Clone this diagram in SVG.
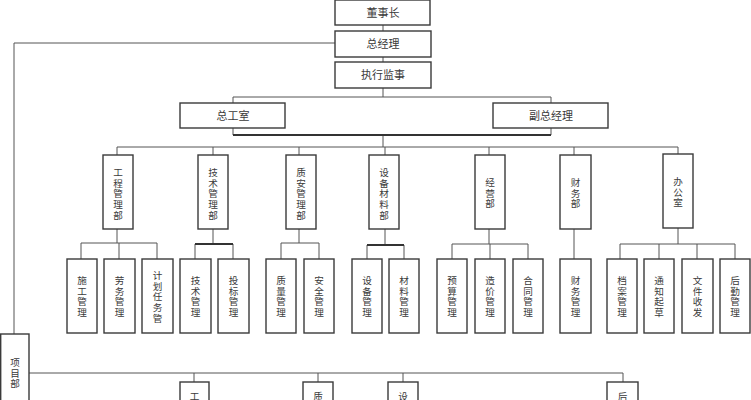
<svg xmlns="http://www.w3.org/2000/svg" width="751" height="400" viewBox="0 0 751 400">
<style>
.b{fill:#fff;stroke:#3a3a3a;stroke-width:1.4}
.c{fill:none;stroke:#555;stroke-width:1}
.k{fill:none;stroke:#333;stroke-width:2.2}
.t{font-family:"Liberation Serif","Noto Sans CJK SC",serif;font-size:11px;fill:#3a3a3a;text-anchor:middle}
.v{font-size:9.6px}
</style>
<rect width="751" height="400" fill="#fff"/>
<g id="connectors">
<path class="c" d="M383 25V31M383 57V62M383 88V97M233 97H551M233 97V103M551 97V103M233 128V135M551 128V135M383 135V147"/>
<path class="k" d="M233 135H551"/>
<path class="c" d="M335 43H14V334"/>
<path class="c" d="M117 147H678M117 147V155M213 147V155M299 147V155M385 147V155M489 147V155M574 147V155M678 147V154"/>
<path class="c" d="M117 229V243M81 243H157M81 243V259M119 243V259M157 243V259"/>
<path class="c" d="M213 229V244M195 244V259M233 244V259"/><path class="k" d="M195 244H233"/>
<path class="c" d="M299 229V243M281 243H319M281 243V259M319 243V259"/>
<path class="c" d="M385 229V245M367 245V259M404 245V259"/><path class="k" d="M367 245H404"/>
<path class="c" d="M489 229V244M452 244H528M452 244V259M490 244V259M528 244V259"/>
<path class="c" d="M574 229V259"/>
<path class="c" d="M678 228V244M620 244H735M620 244V259M659 244V259M697 244V259M735 244V259"/>
<path class="c" d="M29 373H623M194 373V382M318 373V382M403 373V382M623 373V382"/>
</g>
<g id="dongshizhang"><rect class="b" x="335" y="0" width="95" height="25"/><text class="t" x="383" y="16.5">董事长</text></g>
<g id="zongjingli"><rect class="b" x="335" y="31" width="96" height="26"/><text class="t" x="383" y="48">总经理</text></g>
<g id="zhixingjianshi"><rect class="b" x="335" y="62" width="96" height="26"/><text class="t" x="383" y="79">执行监事</text></g>
<g id="zonggongshi"><rect class="b" x="180" y="103" width="105" height="25"/><text class="t" x="233" y="120">总工室</text></g>
<g id="fuzongjingli"><rect class="b" x="493" y="103" width="115" height="25"/><text class="t" x="551" y="120">副总经理</text></g>
<g id="gongcheng"><rect class="b" x="103" y="155" width="30" height="74"/><text class="t v" x="118" y="176">工<tspan x="118" dy="10.7">程</tspan><tspan x="118" dy="10.7">管</tspan><tspan x="118" dy="10.7">理</tspan><tspan x="118" dy="10.7">部</tspan></text></g>
<g id="jishu"><rect class="b" x="198" y="155" width="30" height="74"/><text class="t v" x="213" y="176">技<tspan x="213" dy="10.7">术</tspan><tspan x="213" dy="10.7">管</tspan><tspan x="213" dy="10.7">理</tspan><tspan x="213" dy="10.7">部</tspan></text></g>
<g id="zhian"><rect class="b" x="286" y="155" width="30" height="74"/><text class="t v" x="301" y="176">质<tspan x="301" dy="10.7">安</tspan><tspan x="301" dy="10.7">管</tspan><tspan x="301" dy="10.7">理</tspan><tspan x="301" dy="10.7">部</tspan></text></g>
<g id="shebeicailiao"><rect class="b" x="369" y="155" width="30" height="74"/><text class="t v" x="384" y="176">设<tspan x="384" dy="10.7">备</tspan><tspan x="384" dy="10.7">材</tspan><tspan x="384" dy="10.7">料</tspan><tspan x="384" dy="10.7">部</tspan></text></g>
<g id="jingying"><rect class="b" x="475" y="155" width="30" height="74"/><text class="t v" x="490" y="186">经<tspan x="490" dy="10.7">营</tspan><tspan x="490" dy="10.7">部</tspan></text></g>
<g id="caiwu"><rect class="b" x="560" y="155" width="31" height="74"/><text class="t v" x="575.5" y="186">财<tspan x="575.5" dy="10.7">务</tspan><tspan x="575.5" dy="10.7">部</tspan></text></g>
<g id="bangongshi"><rect class="b" x="663" y="154" width="30" height="74"/><text class="t v" x="678" y="185">办<tspan x="678" dy="10.7">公</tspan><tspan x="678" dy="10.7">室</tspan></text></g>
<g id="shigong"><rect class="b" x="67" y="259" width="30" height="74"/><text class="t v" x="82" y="284">施<tspan x="82" dy="10.7">工</tspan><tspan x="82" dy="10.7">管</tspan><tspan x="82" dy="10.7">理</tspan></text></g>
<g id="laowu"><rect class="b" x="104" y="259" width="31" height="74"/><text class="t v" x="119.5" y="284">劳<tspan x="119.5" dy="10.7">务</tspan><tspan x="119.5" dy="10.7">管</tspan><tspan x="119.5" dy="10.7">理</tspan></text></g>
<g id="jihua"><rect class="b" x="142" y="259" width="31" height="74"/><text class="t v" x="157.5" y="279">计<tspan x="157.5" dy="10.7">划</tspan><tspan x="157.5" dy="10.7">任</tspan><tspan x="157.5" dy="10.7">务</tspan><tspan x="157.5" dy="10.7">管</tspan></text></g>
<g id="jishuguanli"><rect class="b" x="180" y="259" width="31" height="74"/><text class="t v" x="195.5" y="284">技<tspan x="195.5" dy="10.7">术</tspan><tspan x="195.5" dy="10.7">管</tspan><tspan x="195.5" dy="10.7">理</tspan></text></g>
<g id="toubiao"><rect class="b" x="218" y="259" width="31" height="74"/><text class="t v" x="233.5" y="284">投<tspan x="233.5" dy="10.7">标</tspan><tspan x="233.5" dy="10.7">管</tspan><tspan x="233.5" dy="10.7">理</tspan></text></g>
<g id="zhiliang"><rect class="b" x="266" y="259" width="30" height="74"/><text class="t v" x="281" y="284">质<tspan x="281" dy="10.7">量</tspan><tspan x="281" dy="10.7">管</tspan><tspan x="281" dy="10.7">理</tspan></text></g>
<g id="anquan"><rect class="b" x="304" y="259" width="30" height="74"/><text class="t v" x="319" y="284">安<tspan x="319" dy="10.7">全</tspan><tspan x="319" dy="10.7">管</tspan><tspan x="319" dy="10.7">理</tspan></text></g>
<g id="shebei"><rect class="b" x="352" y="259" width="30" height="74"/><text class="t v" x="367" y="284">设<tspan x="367" dy="10.7">备</tspan><tspan x="367" dy="10.7">管</tspan><tspan x="367" dy="10.7">理</tspan></text></g>
<g id="cailiao"><rect class="b" x="389" y="259" width="30" height="74"/><text class="t v" x="404" y="284">材<tspan x="404" dy="10.7">料</tspan><tspan x="404" dy="10.7">管</tspan><tspan x="404" dy="10.7">理</tspan></text></g>
<g id="yusuan"><rect class="b" x="437" y="259" width="30" height="74"/><text class="t v" x="452" y="284">预<tspan x="452" dy="10.7">算</tspan><tspan x="452" dy="10.7">管</tspan><tspan x="452" dy="10.7">理</tspan></text></g>
<g id="zaojia"><rect class="b" x="475" y="259" width="30" height="74"/><text class="t v" x="490" y="284">造<tspan x="490" dy="10.7">价</tspan><tspan x="490" dy="10.7">管</tspan><tspan x="490" dy="10.7">理</tspan></text></g>
<g id="hetong"><rect class="b" x="513" y="259" width="30" height="74"/><text class="t v" x="528" y="284">合<tspan x="528" dy="10.7">同</tspan><tspan x="528" dy="10.7">管</tspan><tspan x="528" dy="10.7">理</tspan></text></g>
<g id="caiwuguanli"><rect class="b" x="560" y="259" width="31" height="74"/><text class="t v" x="575.5" y="284">财<tspan x="575.5" dy="10.7">务</tspan><tspan x="575.5" dy="10.7">管</tspan><tspan x="575.5" dy="10.7">理</tspan></text></g>
<g id="dangan"><rect class="b" x="607" y="259" width="30" height="74"/><text class="t v" x="622" y="284">档<tspan x="622" dy="10.7">案</tspan><tspan x="622" dy="10.7">管</tspan><tspan x="622" dy="10.7">理</tspan></text></g>
<g id="tongzhi"><rect class="b" x="644" y="259" width="30" height="74"/><text class="t v" x="659" y="284">通<tspan x="659" dy="10.7">知</tspan><tspan x="659" dy="10.7">起</tspan><tspan x="659" dy="10.7">草</tspan></text></g>
<g id="wenjian"><rect class="b" x="682" y="259" width="31" height="74"/><text class="t v" x="697.5" y="284">文<tspan x="697.5" dy="10.7">件</tspan><tspan x="697.5" dy="10.7">收</tspan><tspan x="697.5" dy="10.7">发</tspan></text></g>
<g id="houqin"><rect class="b" x="720" y="259" width="30" height="74"/><text class="t v" x="735" y="284">后<tspan x="735" dy="10.7">勤</tspan><tspan x="735" dy="10.7">管</tspan><tspan x="735" dy="10.7">理</tspan></text></g>
<g id="xiangmubu"><rect class="b" x="0.7" y="334" width="28.3" height="80"/><text class="t v" x="15" y="366">项<tspan x="15" dy="10.7">目</tspan><tspan x="15" dy="10.7">部</tspan></text></g>
<g id="gong2"><rect class="b" x="180" y="382" width="29" height="30"/><text class="t v" x="194.5" y="400">工</text></g>
<g id="zhi2"><rect class="b" x="303" y="382" width="30" height="30"/><text class="t v" x="318" y="400">质</text></g>
<g id="she2"><rect class="b" x="388" y="382" width="30" height="30"/><text class="t v" x="403" y="400">设</text></g>
<g id="hou2"><rect class="b" x="607" y="382" width="31" height="30"/><text class="t v" x="622.5" y="400">后</text></g>
</svg>
